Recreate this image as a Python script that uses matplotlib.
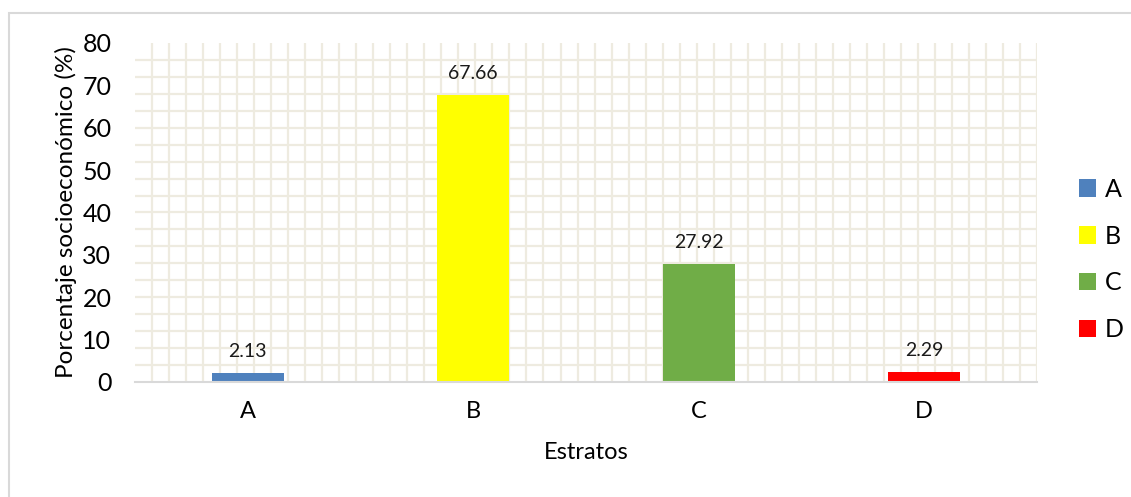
import numpy as np
import matplotlib
matplotlib.use("Agg")
import matplotlib.pyplot as plt
from matplotlib.patches import Rectangle, Patch

plt.rcParams['font.family'] = ['Lato', 'DejaVu Sans']

estratos = ['A', 'B', 'C', 'D']
porcentajes = [2.13, 67.66, 27.92, 2.29]
colores = ['#4F81BD', '#FFFF00', '#70AD47', '#FF0000']
y_ticks = [0, 10, 20, 30, 40, 50, 60, 70, 80]

fig = plt.figure(figsize=(11.31, 4.97), dpi=100)
# light frame around the whole chart
fig.patches.append(Rectangle((9 / 1131, -0.1), 1.1, (497 - 13) / 497 + 0.1,
                             transform=fig.transFigure, fill=False,
                             edgecolor='#D9D9D9', linewidth=1.5))

ax = fig.add_axes([0.1194, 0.2314, 0.7975, 0.6821])
x = np.arange(len(estratos))
ax.set_xlim(-0.5, 3.5)
ax.set_ylim(0, 80)

# paper-like grid behind the bars
grid_c = '#EEEBE0'
step_x = 4 / 53
for k in range(1, 54):
    ax.axvline(-0.5 + k * step_x, color=grid_c, linewidth=1.6, zorder=0)
for v in np.arange(4, 80, 4):
    ax.axhline(v, color=grid_c, linewidth=1.6, zorder=0)

bars = ax.bar(x, porcentajes, width=0.32, color=colores, zorder=2)
for b, v in zip(bars, porcentajes):
    ax.annotate(f'{v:.2f}', (b.get_x() + b.get_width() / 2, v),
                xytext=(0, 11.5), textcoords='offset points',
                ha='center', va='baseline', fontsize=14, color='#1a1a1a')

for s in ['top', 'right', 'left']:
    ax.spines[s].set_visible(False)
ax.spines['bottom'].set_color('#D9D9D9')
ax.spines['bottom'].set_linewidth(1.5)

ax.set_xticks(x)
ax.set_xticklabels(estratos, fontsize=17)
ax.set_yticks(y_ticks)
ax.set_yticklabels([str(t) for t in y_ticks], fontsize=18)
ax.tick_params(axis='both', length=0)
ax.tick_params(axis='y', pad=17)
ax.tick_params(axis='x', pad=14)
ax.set_xlabel('Estratos', fontsize=17, labelpad=14)
ax.set_ylabel('Porcentaje socioeconómico (%)', fontsize=17.5, labelpad=4)

handles = [Patch(facecolor=c, label=e) for e, c in zip(estratos, colores)]
fig.legend(handles=handles, loc='center left', bbox_to_anchor=(0.945, 0.478),
           frameon=False, fontsize=18, handlelength=0.7, handleheight=0.7,
           handletextpad=0.35, labelspacing=0.95, borderaxespad=0)

fig.savefig('out.png', dpi=100)
